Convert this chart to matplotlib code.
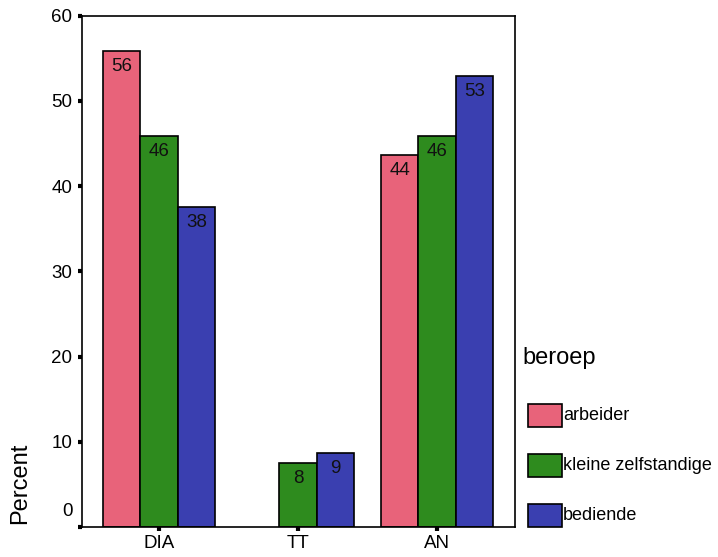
import numpy as np
import matplotlib
matplotlib.use("Agg")
import matplotlib.pyplot as plt
from matplotlib.transforms import ScaledTranslation

plt.rcParams['font.family'] = ['Liberation Sans', 'DejaVu Sans']

categories = ['DIA', 'TT', 'AN']
groups = ['arbeider', 'kleine zelfstandige', 'bediende']
arbeider = [55.9, 0, 43.6]
zelfstandige = [45.9, 7.5, 45.9]
bediende = [37.6, 8.7, 52.9]
labels = [[56, None, 44], [46, 8, 46], [38, 9, 53]]
colors = ['#E8637A', '#2E8B1E', '#3A3FB0']

fig = plt.figure(figsize=(7.18, 5.57), dpi=100)
ax = fig.add_axes([82 / 718, 1 - 527 / 557, (515 - 82) / 718, (527 - 15.7) / 557])

x = np.arange(len(categories))
w = 0.27
series = [arbeider, zelfstandige, bediende]
for i, (vals, col) in enumerate(zip(series, colors)):
    pos = x + (i - 1) * w
    for p, v, lab in zip(pos, vals, labels[i]):
        if v <= 0:
            continue
        ax.bar(p, v, width=w, color=col, edgecolor='black', linewidth=1.2)
        ax.annotate(str(lab), (p, v), xytext=(0, -5), textcoords='offset points',
                    ha='center', va='top', fontsize=13.5, color='#111111')

ax.set_xlim(-0.555, 2.56)
ax.set_ylim(0, 60)
ax.set_yticks(range(0, 61, 10))
ax.set_xticks(x)
ax.set_xticklabels(categories)
ax.tick_params(axis='y', direction='out', length=3, width=3, labelsize=13.5, pad=4)
ax.tick_params(axis='x', direction='out', length=3, width=3, labelsize=13.5, pad=3)
for s in ax.spines.values():
    s.set_linewidth(1.2)

# SPSS puts the "0" label a bit higher than its tick
lab0 = ax.get_yticklabels()[0]
lab0.set_transform(lab0.get_transform() + ScaledTranslation(0, 17 / 100, fig.dpi_scale_trans))

fig.text(20 / 718, 1 - 524 / 557, 'Percent', rotation=90, ha='center', va='bottom', fontsize=17)

# legend
fig.text(522 / 718, 1 - 358 / 557, 'beroep', ha='left', va='center', fontsize=17)
ys = [415, 465, 515]
for g, col, yy in zip(groups, colors, ys):
    fig.patches.append(plt.Rectangle((528 / 718, 1 - (yy + 11.5) / 557), 34 / 718, 23 / 557,
                                     transform=fig.transFigure, facecolor=col,
                                     edgecolor='black', linewidth=1.2))
    fig.text(563 / 718, 1 - yy / 557, g, ha='left', va='center', fontsize=13)

fig.savefig('out.png', dpi=100)
